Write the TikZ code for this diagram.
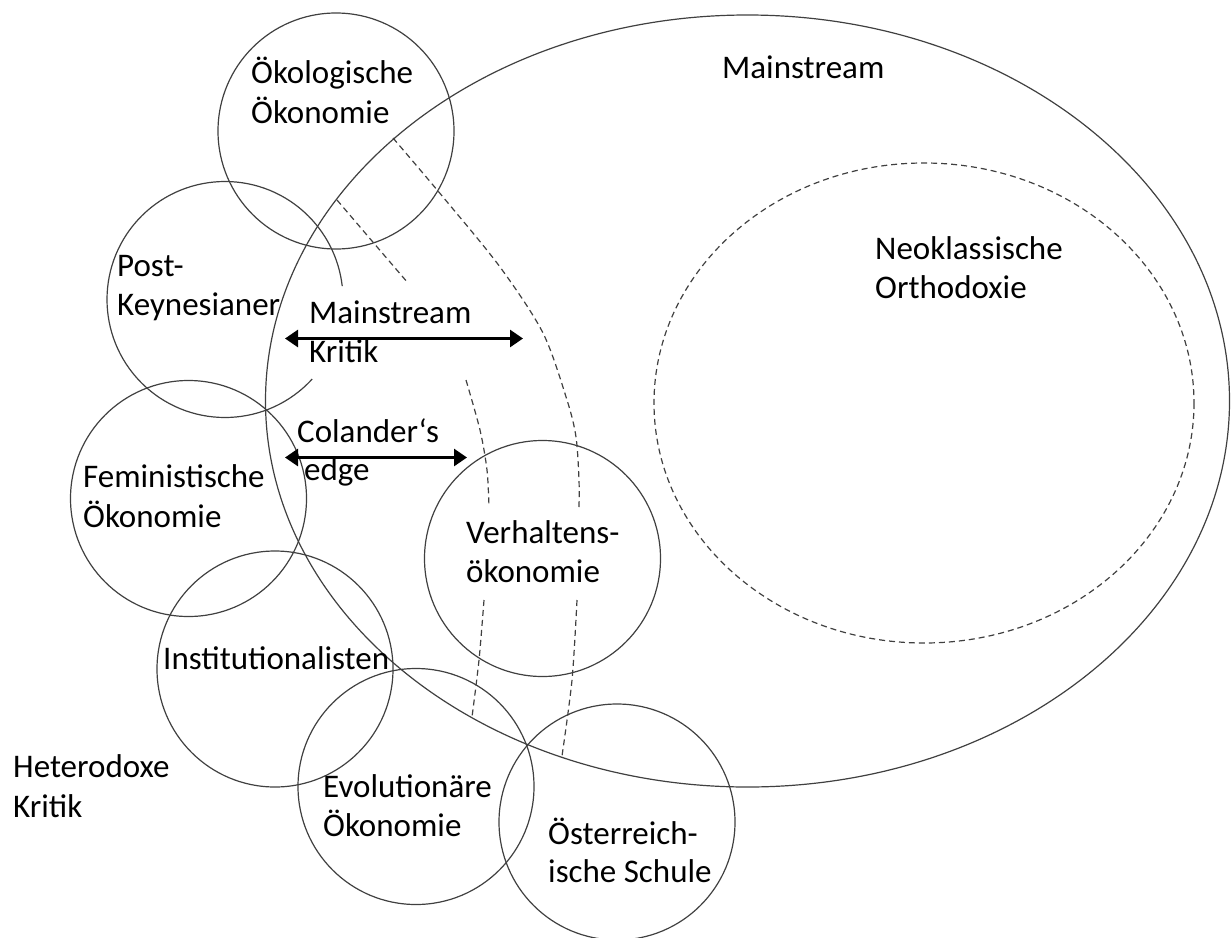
\documentclass[tikz,border=0pt]{standalone}
\usepackage{fontspec}
\setmainfont{Carlito}
\usetikzlibrary{arrows.meta}
\begin{document}
\begin{tikzpicture}[x=1pt,y=-1pt,
  ring/.style={draw=black!75, line width=1.2pt},
  dashline/.style={draw=black!75, line width=1.2pt, dash pattern=on 6pt off 4pt},
  lbl/.style={anchor=base west, inner sep=0pt, font=\fontsize{33}{40}\selectfont},
  twoway/.style={line width=2.8pt, {Triangle[length=13pt,width=17pt]}-{Triangle[length=13pt,width=17pt]}}]
\useasboundingbox (0,0) rectangle (1231,937);
% Mainstream and neoclassical orthodoxy
\draw[ring] (747.5,401) ellipse [x radius=482, y radius=386];
\draw[dashline] (924,403) ellipse [x radius=270, y radius=240];
% heterodox schools
\draw[ring] (336,131) circle [radius=118];
\draw[ring] (225,299.5) ++(42.4:118) arc [start angle=42.4, end angle=353.5, radius=118];
\draw[ring] (188.5,498.5) circle [radius=118];
\draw[ring] (275,669) circle [radius=118];
\draw[ring] (542.5,558.5) circle [radius=118];
\draw[ring] (416,786.5) circle [radius=118];
\draw[ring] (617,822) circle [radius=118];
% dashed boundaries
\draw[dashline] plot[smooth] coordinates {(393,138) (443,197) (500,267) (543,333) (567,400) (576,437) (579,480) (579,507)};
\draw[dashline] plot[smooth] coordinates {(577,600) (572,680) (562,756)};
\draw[dashline] plot[smooth] coordinates {(337,200) (372,241) (408,283)};
\draw[dashline] plot[smooth] coordinates {(466,380) (480,430) (487,470) (489,507)};
\draw[dashline] plot[smooth] coordinates {(484,600) (479,660) (472,717)};
% arrows
\coordinate (mkL) at (285,338.5);
\coordinate (mkR) at (523,338.5);
\coordinate (ceL) at (285,457.5);
\coordinate (ceR) at (467,457.5);
\draw[twoway] (mkL) -- (mkR);
\draw[twoway] (ceL) -- (ceR);
% labels
\node[lbl] (ms) at (722,78) {Mainstream};
\node[lbl] (nk1) at (875,259) {Neoklassische};
\node[lbl] (nk2) at (875,298) {Orthodoxie};
\node[lbl] (ok1) at (251,83) {Ökologische};
\node[lbl] (ok2) at (251,123) {Ökonomie};
\node[lbl] (pk1) at (117,276) {Post-};
\node[lbl] (pk2) at (117,315) {Keynesianer};
\node[lbl] (mk1) at (309,323) {Mainstream};
\node[lbl] (mk2) at (309,362) {Kritik};
\node[lbl] (ce1) at (297,442) {Colander‘s};
\node[lbl] (ce2) at (304,480) {edge};
\node[lbl] (fe1) at (83,487) {Feministische};
\node[lbl] (fe2) at (83,527) {Ökonomie};
\node[lbl] (in1) at (163,669) {Institutionalisten};
\node[lbl] (vh1) at (466,543) {Verhaltens-};
\node[lbl] (vh2) at (466,582) {ökonomie};
\node[lbl] (ev1) at (323,797) {Evolutionäre};
\node[lbl] (ev2) at (323,836) {Ökonomie};
\node[lbl] (os1) at (548,844) {Österreich-};
\node[lbl] (os2) at (548,882) {ische Schule};
\node[lbl] (he1) at (13,777) {Heterodoxe};
\node[lbl] (he2) at (13,817) {Kritik};
\end{tikzpicture}
\end{document}
